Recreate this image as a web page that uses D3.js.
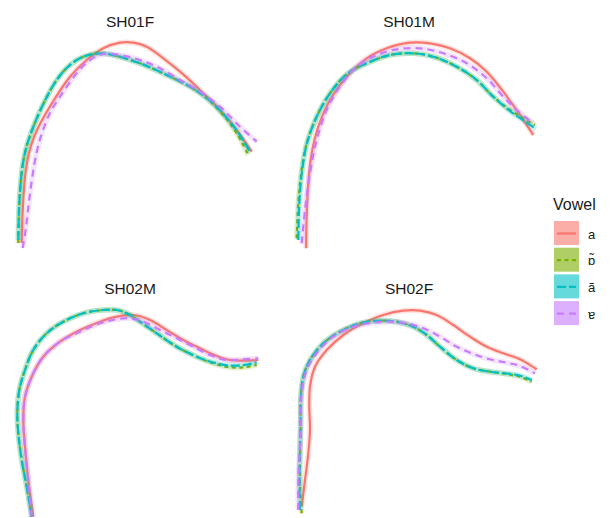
<!DOCTYPE html>
<html>
<head>
<meta charset="utf-8">
<script src="https://cdn.jsdelivr.net/npm/d3@7/dist/d3.min.js"></script>
<style>
  html, body { margin: 0; padding: 0; background: #fff; }
  svg { display: block; }
</style>
</head>
<body>
<svg id="chart" width="613" height="518"></svg>
<script>
// Tongue contour smooths per speaker, one curve per vowel.
// Coordinates: x = front/back position, y = height (arbitrary units).
const vowels = ["a", "ɒ̃", "ã", "ɐ"];
const vowelColors = ["#F8766D", "#7CAE00", "#00BFC4", "#C77CFF"];
const vowelDash = [null, "4,3.5", "9,3", "7,5"];
const speakers = ["SH01F", "SH01M", "SH02M", "SH02F"];

const SH01F_a = [[21.7,8],[22.3,30],[23.5,55],[25.5,78],[29,98],[34,114],[41,129],[53.3,150],[70,174.3],[86.7,191],[103.3,202.7],[120,208.3],[133.3,208.3],[146.7,204.3],[163.3,192.7],[180,179.3],[200,161],[220,141],[236.7,121],[251.7,99.3]];
const SH01F_o = [[18.3,8],[19,41],[20.5,66],[23,88],[27,106],[33.3,124],[43.3,147],[56.7,171],[70,186],[83.3,194.3],[100,197.7],[116.7,195],[140,187.7],[166.7,176],[190,164.3],[206.7,152.7],[223.3,136],[236.7,117.7],[248.3,96]];
const SH01F_an = [[18.3,11],[19,41],[20.5,66],[23,88],[27,106],[33.3,124],[43.3,147],[56.7,171],[70,186],[83.3,194.3],[100,197.7],[116.7,195],[140,187.7],[166.7,176],[190,164.3],[206.7,153],[223.3,137],[237,120],[250,99]];
const SH01F_e = [[22.7,3],[25.5,20],[28.5,45],[32,72],[36.5,98],[42,118],[50,138],[60,154.3],[76.7,177.7],[90,191],[103.3,197],[120,196],[140,191],[160,182.7],[180,171],[200,159.3],[220,144.3],[240,124.3],[256.7,109.3]];

const SH01M_a = [[27,2.7],[27.7,34.3],[29.3,67.7],[32.7,97.7],[39.3,124.3],[51,151],[67.7,174.3],[87.7,192.7],[107.7,202.7],[131,208.3],[151,207.7],[171,202.7],[191,192.7],[207.7,179.3],[224.3,159.3],[241,136],[254.3,116]];
const SH01M_o = [[17.7,12.7],[19.3,47.7],[22.7,81],[27.7,107.7],[37.7,134.3],[51,157.7],[67.7,176.7],[87.7,187.7],[111,196],[134.3,197.7],[154.3,194.3],[177.7,184.3],[197.7,171],[214.3,154.3],[231,141],[244.3,132.7],[256,126]];
const SH01M_an = [[19.3,11],[20.3,47.7],[23.2,81],[28,107.7],[37.7,134.3],[51,157.7],[67.7,176.7],[87.7,187.7],[111,196],[134.3,197.7],[154.3,194.3],[177.7,184.3],[197.7,171],[214.3,154.3],[231,140],[244.3,130.7],[257,122]];
const SH01M_e = [[22.7,7.7],[26,41],[31,77.7],[37.7,111],[47.7,141],[61,164.3],[77.7,184.3],[97.7,196],[117.7,201.7],[141,202.7],[164.3,197.7],[187.7,187.7],[207.7,172.7],[224.3,154.3],[237.7,141],[254.3,127.7]];

const SH02M_a = [[33.3,1.3],[28.3,38],[25,71.3],[23.3,98],[25,121.3],[31.7,141.3],[43.3,161.3],[60,176.3],[80,188],[100,196.3],[116.7,201.3],[133.3,203],[150,198],[166.7,188],[183.3,178],[200,169.7],[216.7,162],[230,158],[243.3,157.3],[258.3,158]];
const SH02M_o = [[31.7,1.3],[26.7,31.3],[21.7,58],[18.3,84.7],[17.3,104.7],[19.3,128],[25,148],[33.3,168],[46.7,184.7],[63.3,196.3],[83.3,204.7],[103.3,208],[116.7,208],[126.7,204.7],[140,196.3],[156.7,184.7],[176.7,171.3],[196.7,161.3],[213.3,154.7],[230,150.7],[243.3,150.7],[256.7,153]];
const SH02M_an = [[31.7,1.3],[26.7,31.3],[21.7,58],[18.3,84.7],[17.3,104.7],[19.3,128],[25,148],[33.3,168],[46.7,184.7],[63.3,196.3],[83.3,204.7],[103.3,208],[116.7,208],[126.7,204.7],[140,196.3],[156.7,184.7],[176.7,171.3],[196.7,161.3],[213.3,155.5],[230,152.5],[243.3,153],[256.7,155.5]];
const SH02M_e = [[31.7,1.3],[28.3,38],[25,71.3],[23.3,98],[25,121.3],[31.7,141.3],[43.3,161.3],[60,176.3],[80,186.3],[100,194.7],[116.7,198.7],[130,199.7],[143.3,196.3],[160,188],[176.7,179.7],[193.3,171.3],[210,163],[226.7,158],[243.3,158.7],[258.3,159.7]];

const SH02F_a = [[22.7,11.3],[26,38],[29.3,64.7],[31,88],[30.3,111.3],[31,131.3],[36,151.3],[47.7,168],[64.3,183],[84.3,194.7],[104.3,203],[124.3,207.3],[141,207.3],[157.7,203],[174.3,193],[191,181.3],[207.7,171.3],[224.3,164.7],[241,158.7],[257.7,148.7]];
const SH02F_o = [[22.7,4.7],[21,31.3],[21,61.3],[21.7,91.3],[21.7,118],[24.3,141.3],[31,158],[44.3,174.7],[61,186.3],[81,194.7],[101,197.3],[117.7,196.3],[134.3,191.3],[147.7,183],[161,171.3],[177.7,158],[194.3,149.7],[211,146.3],[227.7,144],[241,141.3],[252.7,136.3]];
const SH02F_an = [[21,8],[20.5,31.3],[20.7,61.3],[21.5,91.3],[21.7,118],[24.3,141.3],[31,158],[44.3,174.7],[61,186.3],[81,194.7],[101,197.3],[117.7,196.3],[134.3,191.3],[147.7,183],[161,171.3],[177.7,158],[194.3,149.7],[211,146.3],[227.7,144.5],[241,142.3],[252.7,138]];
const SH02F_e = [[19.3,8],[19.3,38],[21,71.3],[21.7,98],[22.7,124.7],[27.7,148],[37.7,164.7],[54.3,181.3],[74.3,191.3],[94.3,195.3],[111,196.3],[127.7,194.7],[144.3,189.7],[161,181.3],[177.7,171.3],[194.3,164],[211,158.7],[227.7,155.3],[241,152],[256,144.7]];

const contours = {
  SH01F: [SH01F_a, SH01F_o, SH01F_an, SH01F_e],
  SH01M: [SH01M_a, SH01M_o, SH01M_an, SH01M_e],
  SH02M: [SH02M_a, SH02M_o, SH02M_an, SH02M_e],
  SH02F: [SH02F_a, SH02F_o, SH02F_an, SH02F_e]
};

const svg = d3.select("#chart");
const font = "'Liberation Sans', Arial, Helvetica, sans-serif";

// Facet grid: 2 x 2 panels sharing the same scales
const panelW = 260, panelH = 223;
const colLeft = [0, 279];
const rowTop = [28, 295];
const xDomain = [0, 260], yDomain = [0, 223];

speakers.forEach((spk, i) => {
  const col = i % 2, row = Math.floor(i / 2);
  const x = d3.scaleLinear().domain(xDomain).range([colLeft[col], colLeft[col] + panelW]);
  const y = d3.scaleLinear().domain(yDomain).range([rowTop[row] + panelH, rowTop[row]]);
  const line = d3.line().x(d => x(d[0])).y(d => y(d[1])).curve(d3.curveCatmullRom.alpha(0.5));

  svg.append("text")
    .attr("x", colLeft[col] + panelW / 2)
    .attr("y", rowTop[row] - 1.5)
    .attr("text-anchor", "middle")
    .attr("font-family", font)
    .attr("font-size", 15.5)
    .attr("fill", "#1a1a1a")
    .text(spk);

  const g = svg.append("g");
  contours[spk].forEach((pts, v) => {
    // confidence band halo
    g.append("path")
      .attr("d", line(pts))
      .attr("fill", "none")
      .attr("stroke", vowelColors[v])
      .attr("stroke-opacity", 0.2)
      .attr("stroke-width", 5.5);
    const p = g.append("path")
      .attr("d", line(pts))
      .attr("fill", "none")
      .attr("stroke", vowelColors[v])
      .attr("stroke-width", 2.2);
    if (vowelDash[v]) p.attr("stroke-dasharray", vowelDash[v]);
  });
});

// Legend
const legX = 554, legTitleY = 210, keyTop = 221, keySize = 25, keyStep = 26.7;
const leg = svg.append("g");
leg.append("text")
  .attr("x", legX - 1)
  .attr("y", legTitleY)
  .attr("font-family", font)
  .attr("font-size", 16)
  .attr("fill", "#1a1a1a")
  .text("Vowel");

vowels.forEach((v, i) => {
  const ky = keyTop + i * keyStep;
  leg.append("rect")
    .attr("x", legX).attr("y", ky)
    .attr("width", keySize).attr("height", keySize - 1)
    .attr("fill", vowelColors[i])
    .attr("fill-opacity", 0.6);
  const l = leg.append("line")
    .attr("x1", legX + 3).attr("x2", legX + keySize - 3)
    .attr("y1", ky + keySize / 2).attr("y2", ky + keySize / 2)
    .attr("stroke", vowelColors[i])
    .attr("stroke-width", 2.2);
  if (vowelDash[i]) l.attr("stroke-dasharray", vowelDash[i]);
  leg.append("text")
    .attr("x", 588)
    .attr("y", ky + keySize / 2 + 5)
    .attr("font-family", font)
    .attr("font-size", 13)
    .attr("fill", "#1a1a1a")
    .text(v);
});
</script>
</body>
</html>
